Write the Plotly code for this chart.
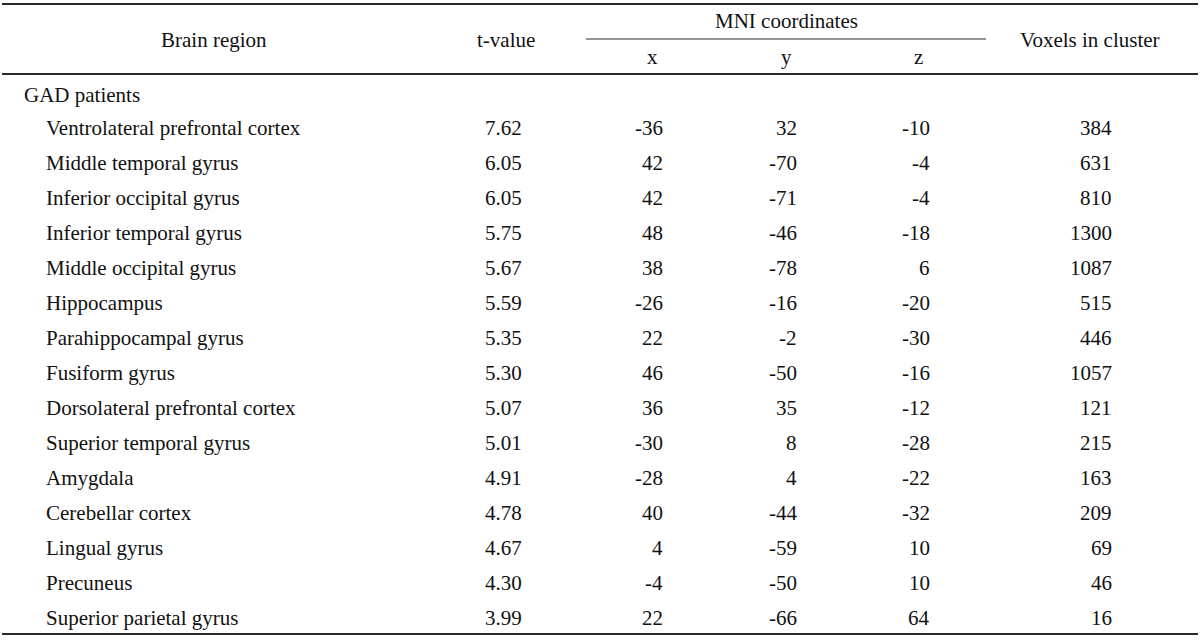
import plotly.graph_objects as go

group_label = "GAD patients"
regions = [
    "Ventrolateral prefrontal cortex", "Middle temporal gyrus", "Inferior occipital gyrus",
    "Inferior temporal gyrus", "Middle occipital gyrus", "Hippocampus",
    "Parahippocampal gyrus", "Fusiform gyrus", "Dorsolateral prefrontal cortex",
    "Superior temporal gyrus", "Amygdala", "Cerebellar cortex", "Lingual gyrus",
    "Precuneus", "Superior parietal gyrus",
]
t_values = ["7.62", "6.05", "6.05", "5.75", "5.67", "5.59", "5.35", "5.30", "5.07",
            "5.01", "4.91", "4.78", "4.67", "4.30", "3.99"]
mni_x = [-36, 42, 42, 48, 38, -26, 22, 46, 36, -30, -28, 40, 4, -4, 22]
mni_y = [32, -70, -71, -46, -78, -16, -2, -50, 35, 8, 4, -44, -59, -50, -66]
mni_z = [-10, -4, -4, -18, 6, -20, -30, -16, -12, -28, -22, -32, 10, 10, 64]
voxels = [384, 631, 810, 1300, 1087, 515, 446, 1057, 121, 215, 163, 209, 69, 46, 16]

headers = ["Brain region", "t-value", "MNI coordinates", "x", "y", "z", "Voxels in cluster"]

FONT = dict(family="Liberation Serif, Times New Roman, serif", size=21, color="#111111")
LINE = "#2a2a2a"

# row units: pixel = 93 + 35 * row
def r(px):
    return (px - 93) / 35.0

fig = go.Figure()
fig.add_trace(go.Scatter(x=[0], y=[0], mode="markers", marker=dict(size=0, opacity=0),
                         hoverinfo="skip", showlegend=False))

ann = []
def add(x, y, text, xanchor):
    ann.append(dict(x=x, y=y, xref="x", yref="y", text=str(text), showarrow=False,
                    xanchor=xanchor, yanchor="middle", font=FONT))

# headers
add(214, r(40), headers[0], "center")
add(506, r(40), headers[1], "center")
add(786, r(21), headers[2], "center")
add(652, r(57), headers[3], "center")
add(786, r(57), headers[4], "center")
add(918, r(57), headers[5], "center")
add(1090, r(40), headers[6], "center")

add(22, r(95), group_label, "left")
for i in range(len(regions)):
    row = i + 1
    add(44, row, regions[i], "left")
    add(524, row, t_values[i], "right")
    add(665, row, mni_x[i], "right")
    add(799, row, mni_y[i], "right")
    add(932, row, mni_z[i], "right")
    add(1114, row, voxels[i], "right")

shapes = [
    dict(type="line", xref="x", yref="y", x0=2, x1=1198, y0=r(4), y1=r(4), line=dict(color=LINE, width=2)),
    dict(type="line", xref="x", yref="y", x0=586, x1=986, y0=r(39), y1=r(39), line=dict(color=LINE, width=1)),
    dict(type="line", xref="x", yref="y", x0=2, x1=1198, y0=r(74), y1=r(74), line=dict(color=LINE, width=2)),
    dict(type="line", xref="x", yref="y", x0=2, x1=1198, y0=r(634), y1=r(634), line=dict(color=LINE, width=2)),
]

fig.update_layout(
    width=1200, height=641,
    margin=dict(l=0, r=0, t=0, b=0),
    paper_bgcolor="white", plot_bgcolor="white",
    xaxis=dict(range=[0, 1200], visible=False, fixedrange=True),
    yaxis=dict(range=[r(641), r(0)], visible=False, fixedrange=True),
    annotations=ann, shapes=shapes, showlegend=False,
)

fig.write_html("out.html", config={"displayModeBar": False},
               post_script="document.body.style.margin='0';document.body.style.overflow='hidden';")
